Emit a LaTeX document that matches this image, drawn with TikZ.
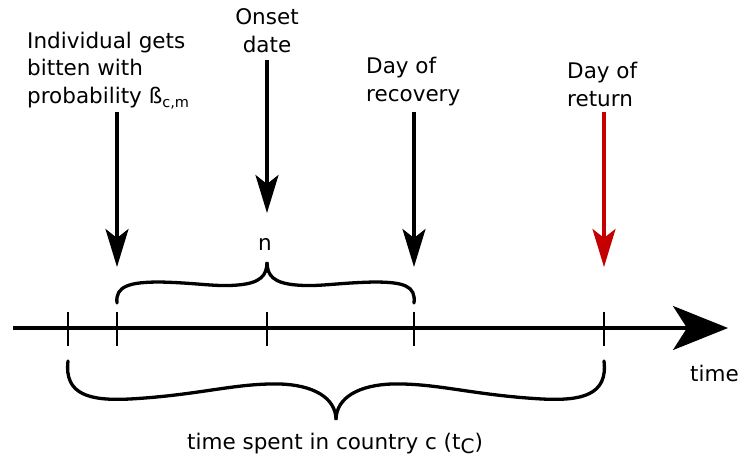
\documentclass[tikz,border=0pt]{standalone}
\usepackage{fontspec}
\setmainfont{DejaVu Sans}
\usetikzlibrary{arrows.meta}
\definecolor{darkred}{RGB}{196,0,0}
\begin{document}
\begin{tikzpicture}[x=1pt,y=-1pt,
  lbl/.style={inner sep=0pt,font=\fontsize{21.5}{27.5}\selectfont,align=left},
  pointer/.style={line width=3.3pt,-{Stealth[length=38pt,width=23pt,inset=9pt]}},
  tick/.style={line width=2.4pt},
  brace/.style={line width=3.3pt,line cap=round}]
\useasboundingbox (0,0) rectangle (741,463);
% timeline
\coordinate (t0) at (13,328);
\coordinate (t1) at (728,328);
\draw[line width=3.3pt,-{Stealth[length=55pt,width=44pt,inset=14pt]}] (t0) -- (t1);
\foreach \x/\n in {68/a,117/b,267/c,414/d,604/e}{
  \coordinate (\n top) at (\x,312);
  \coordinate (\n bot) at (\x,346);
  \draw[tick] (\n top) -- (\n bot);
}
% upper brace
\draw[brace] (117,303) .. controls (115,286) and (130,282) .. (160,282)
  .. controls (200,283) and (215,287) .. (238,285)
  .. controls (260,283) and (267,276) .. (267,262)
  .. controls (267,276) and (274,283) .. (296,285)
  .. controls (319,287) and (334,283) .. (374,282)
  .. controls (404,282) and (416,286) .. (414,303);
\node[lbl,anchor=base] (n) at (265,250) {n};
% lower brace
\draw[brace] (68,361) .. controls (64,395) and (90,401) .. (130,399)
  .. controls (200,395) and (235,383) .. (280,384)
  .. controls (312,385) and (336,397) .. (336,420)
  .. controls (336,397) and (360,385) .. (392,384)
  .. controls (437,383) and (472,395) .. (542,399)
  .. controls (582,401) and (608,395) .. (604,361);
\node[lbl,anchor=base west] (spent) at (187,449) {time spent in country c (t\raisebox{-0.35ex}{\fontsize{20}{20}\selectfont C})};
\node[lbl,anchor=base west] (time) at (690,381) {time};
% labels
\node[lbl,anchor=base west] (bitten) at (27,103) {Individual gets\\bitten with\\probability ß\raisebox{-0.4ex}{\fontsize{14.5}{14.5}\selectfont c,m}};
\node[lbl,align=center,anchor=base] (onset) at (267,52) {Onset\\date};
\node[lbl,anchor=base west] (recov) at (366,101) {Day of\\recovery};
\node[lbl,anchor=base west] (ret) at (567,106) {Day of\\return};
% arrows
\coordinate (a1s) at (117,112); \coordinate (a1e) at (117,267);
\coordinate (a2s) at (267,60);  \coordinate (a2e) at (267,213);
\coordinate (a3s) at (414,112); \coordinate (a3e) at (414,267);
\coordinate (a4s) at (604,112); \coordinate (a4e) at (604,267);
\draw[pointer] (a1s) -- (a1e);
\draw[pointer] (a2s) -- (a2e);
\draw[pointer] (a3s) -- (a3e);
\draw[pointer,darkred] (a4s) -- (a4e);
\end{tikzpicture}
\end{document}
